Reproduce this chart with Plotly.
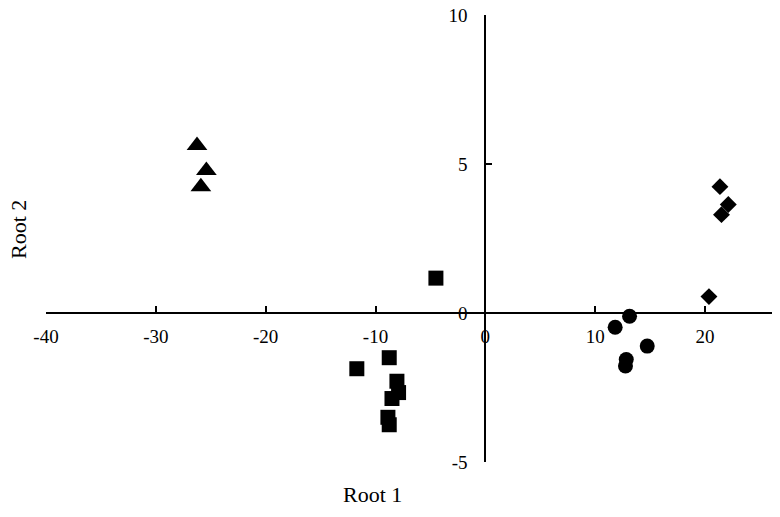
import plotly.graph_objects as go

# Data (Root 1, Root 2)
tri_x = [-26.25, -25.4, -25.9]
tri_y = [5.62, 4.78, 4.24]

sq_x = [-4.5, -11.7, -8.75, -8.05, -7.9, -8.5, -8.87, -8.75]
sq_y = [1.17, -1.87, -1.5, -2.29, -2.67, -2.87, -3.5, -3.75]

circ_x = [13.13, 11.82, 14.74, 12.83, 12.76]
circ_y = [-0.11, -0.48, -1.11, -1.56, -1.78]

dia_x = [21.36, 22.12, 21.5, 20.36]
dia_y = [4.24, 3.64, 3.3, 0.55]

x_ticks = [-40, -30, -20, -10, 0, 10, 20]
y_ticks = [-5, 0, 5, 10]

X_MIN, X_MAX = -40, 26.1
Y_MIN, Y_MAX = -5, 10

fig = go.Figure()
fig.add_trace(go.Scatter(x=tri_x, y=tri_y, mode="markers",
                         marker=dict(symbol="triangle-up", size=18, color="black")))
fig.add_trace(go.Scatter(x=sq_x, y=sq_y, mode="markers",
                         marker=dict(symbol="square", size=15, color="black")))
fig.add_trace(go.Scatter(x=circ_x, y=circ_y, mode="markers",
                         marker=dict(symbol="circle", size=15, color="black")))
fig.add_trace(go.Scatter(x=dia_x, y=dia_y, mode="markers",
                         marker=dict(symbol="diamond", size=13, color="black")))

font = dict(family="Liberation Serif, Times New Roman, serif", color="black")

# plot area in page pixels: x 46..772, y 15..462
fig.update_layout(
    width=780, height=517,
    margin=dict(l=46, r=8, t=15, b=55),
    paper_bgcolor="white", plot_bgcolor="white",
    showlegend=False,
    font=dict(**font, size=19),
    xaxis=dict(range=[X_MIN, X_MAX], domain=[0, 1], anchor="free",
               position=(0 - Y_MIN) / (Y_MAX - Y_MIN), automargin=False,
               tickmode="array", tickvals=x_ticks,
               ticktext=[str(v) for v in x_ticks],
               ticks="inside", ticklen=6, tickwidth=2, tickcolor="black",
               ticklabelstandoff=6, ticklabeloverflow="allow",
               showline=True, linecolor="black", linewidth=2,
               showgrid=False, zeroline=False,
               tickfont=dict(**font, size=19)),
    yaxis=dict(range=[Y_MIN, Y_MAX], domain=[0, 1], anchor="free",
               position=(0 - X_MIN) / (X_MAX - X_MIN), automargin=False,
               tickmode="array", tickvals=y_ticks,
               ticktext=[str(v) for v in y_ticks],
               ticks="inside", ticklen=6, tickwidth=2, tickcolor="black",
               ticklabelstandoff=13, ticklabeloverflow="allow",
               showline=True, linecolor="black", linewidth=2,
               showgrid=False, zeroline=False,
               tickfont=dict(**font, size=19)),
    annotations=[
        dict(text="Root 1", x=(372 - 46) / (772 - 46), y=-0.073,
             xref="paper", yref="paper", showarrow=False,
             xanchor="center", yanchor="middle", font=dict(**font, size=22)),
        dict(text="Root 2", x=(18 - 46) / (772 - 46), y=(462 - 230) / (462 - 15),
             xref="paper", yref="paper", showarrow=False, textangle=-90,
             xanchor="center", yanchor="middle", font=dict(**font, size=22)),
    ],
)

fig.write_html("out.html",
               config={"displayModeBar": False},
               post_script="document.body.style.margin='0px';")
